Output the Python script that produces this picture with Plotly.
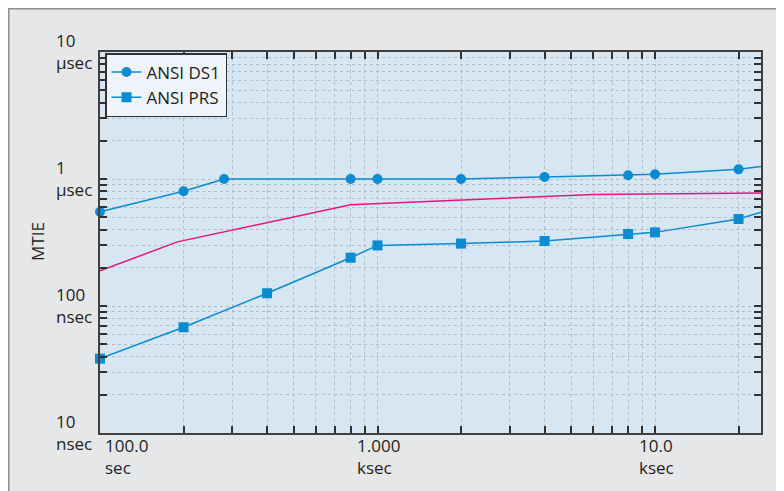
import math
import plotly.graph_objects as go

# ---- data (time in seconds, MTIE in nanoseconds) ----
ds1_tau = [100, 200, 280, 800, 1000, 2000, 4000, 8000, 10000, 20000, 30000]
ds1_mtie = [553, 800, 1000, 1000, 1000, 1000, 1038, 1070, 1089, 1191, 1330]

prs_tau = [100, 200, 400, 800, 1000, 2000, 4000, 8000, 10000, 20000, 30000]
prs_mtie = [38.5, 68, 126, 240, 300, 310, 325, 369, 380, 484, 632]

mask_tau = [100, 190, 800, 6000, 30000]
mask_mtie = [189, 320, 628, 754, 780]

x_tick_vals = [100, 1000, 10000]
x_tick_text = ["100.0<br>sec", "1.000<br>ksec", "10.0<br>ksec"]
y_tick_vals = [10, 100, 1000, 10000]
y_tick_text = ["10<br>nsec", "100<br>nsec", "1<br>µsec", "10<br>µsec"]

BLUE = "#0a8bd2"
PINK = "#e6177a"
TXT = "#231f20"
FONT = "Open Sans"

OFF = 8  # page body margin of the browser
W, H = 784 - OFF, 491 - OFF
L, R, T, B = 92, 23, 44, 58
PW, PH = W - L - R, H - T - B

def px_x(sx):
    return (sx - OFF - L) / PW

def px_y(sy):
    return (H - B - (sy - OFF)) / PH

fig = go.Figure()
fig.add_trace(go.Scatter(x=ds1_tau, y=ds1_mtie, mode="lines+markers", name="ANSI DS1",
                         line=dict(color=BLUE, width=1.5),
                         marker=dict(symbol="circle", size=10, color=BLUE),
                         cliponaxis=False))
fig.add_trace(go.Scatter(x=prs_tau, y=prs_mtie, mode="lines+markers", name="ANSI PRS",
                         line=dict(color=BLUE, width=1.5),
                         marker=dict(symbol="square", size=10, color=BLUE),
                         cliponaxis=False))
fig.add_trace(go.Scatter(x=mask_tau, y=mask_mtie, mode="lines", showlegend=False,
                         line=dict(color=PINK, width=1.5)))

def minor_vals(lo, hi):
    out = []
    d = lo
    while d < hi:
        for k in range(2, 10):
            out.append(k * 10 ** d)
        d += 1
    return out

grid_kw = dict(gridcolor="#b9bcbf", griddash="dot", gridwidth=1)
tick_kw = dict(ticks="inside", ticklen=7, tickcolor="#303030", tickwidth=1.5)
axis_common = dict(type="log", showline=True, linecolor="#404040", linewidth=2,
                   mirror="allticks", showticklabels=False, showgrid=True,
                   zeroline=False, **tick_kw, **grid_kw)

fig.update_xaxes(range=[2, 2 + PW / 277.5], tickmode="array", tickvals=x_tick_vals,
                 minor=dict(tickmode="array", tickvals=minor_vals(2, 5), showgrid=True,
                            **tick_kw, **grid_kw),
                 **axis_common)
fig.update_yaxes(range=[1, 4], tickmode="array", tickvals=y_tick_vals,
                 minor=dict(tickmode="array", tickvals=minor_vals(1, 4), showgrid=True,
                            **tick_kw, **grid_kw),
                 **axis_common)

tfont = dict(family=FONT, size=17, color=TXT)
annotations = []
for v, t in zip(y_tick_vals, y_tick_text):
    annotations.append(dict(xref="paper", yref="y", x=px_x(54), y=math.log10(v),
                            xanchor="left", yanchor="middle", align="left", yshift=1,
                            text=t, showarrow=False, font=tfont))
for i, (v, t) in enumerate(zip(x_tick_vals, x_tick_text)):
    annotations.append(dict(xref="x", yref="paper", x=math.log10(v), y=px_y(457),
                            xanchor="left" if i == 0 else "center",
                            xshift=3 if i == 0 else 1,
                            yanchor="middle", align="left", text=t, showarrow=False,
                            font=tfont))
annotations.append(dict(xref="paper", yref="paper", x=px_x(37), y=px_y(242),
                        xanchor="center", yanchor="middle", text="MTIE", textangle=-90,
                        showarrow=False, font=tfont))

shapes = [
    dict(type="rect", xref="paper", yref="paper", x0=px_x(OFF + 0.75), x1=px_x(1000),
         y0=px_y(800), y1=px_y(OFF + 0.75), fillcolor="#e6e7e8",
         line=dict(color="#8e8f91", width=1.5), layer="below"),
    dict(type="rect", xref="paper", yref="paper", x0=0, x1=1, y0=0, y1=1,
         fillcolor="#d6e6f2", line=dict(width=0), layer="below"),
]

fig.update_layout(
    width=W, height=H,
    margin=dict(l=L, r=R, t=T, b=B, pad=0),
    paper_bgcolor="#e6e7e8", plot_bgcolor="#d6e6f2",
    font=tfont,
    showlegend=True,
    legend=dict(x=px_x(105), y=px_y(53), xanchor="left", yanchor="top",
                bgcolor="#eef4f9", bordercolor="#333333", borderwidth=1.5,
                font=dict(family=FONT, size=17, color=TXT),
                itemwidth=30, tracegroupgap=0),
    annotations=annotations, shapes=shapes,
)

fig.write_html("out.html")
